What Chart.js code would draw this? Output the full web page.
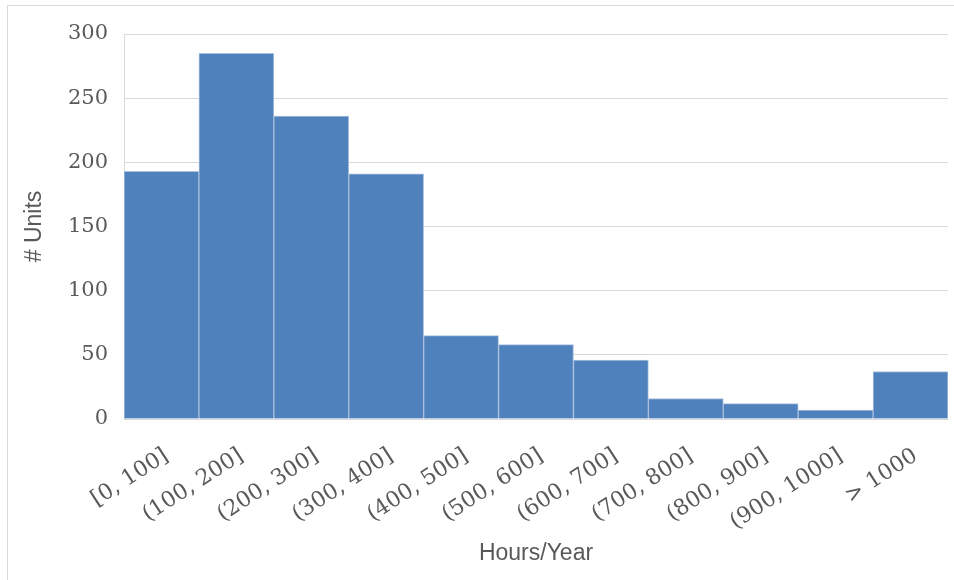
<!DOCTYPE html>
<html>
<head>
<meta charset="utf-8">
<script src="https://cdn.jsdelivr.net/npm/chart.js@4/dist/chart.umd.min.js"></script>
<style>
  html, body { margin: 0; padding: 0; background: #fff; overflow: hidden; }
  #wrap { position: relative; width: 954px; height: 580px; }
  #frame { position: absolute; left: 7px; top: 5px; width: 960px; height: 600px; border: 1px solid #d9d9d9; box-sizing: border-box; }
</style>
</head>
<body>
<div id="wrap">
  <div id="frame"></div>
  <canvas id="histChart"></canvas>
</div>
<script>
// Histogram bins and counts
const binLabels = ['[0, 100]', '(100, 200]', '(200, 300]', '(300, 400]', '(400, 500]', '(500, 600]',
  '(600, 700]', '(700, 800]', '(800, 900]', '(900, 1000]', '> 1000'];
const unitCounts = [193, 285, 236, 191, 65, 58, 46, 16, 12, 7, 37];
const yMin = 0;
const yMax = 300;
const yStep = 50;

const gray = '#595959';
const gridColor = '#d9d9d9';

document.addEventListener('DOMContentLoaded', function() {
  const ctx = document.getElementById('histChart').getContext('2d');

  new Chart(ctx, {
    type: 'bar',
    data: {
      labels: binLabels,
      datasets: [{
        label: '# Units',
        data: unitCounts,
        backgroundColor: '#4f81bd',
        borderColor: '#a9bfdd',
        borderWidth: 1,
        barPercentage: 1,
        categoryPercentage: 1
      }]
    },
    options: {
      responsive: true,
      maintainAspectRatio: false,
      animation: false,
      layout: {
        padding: { left: 0, right: 6, top: 34, bottom: 0 }
      },
      plugins: {
        legend: { display: false },
        tooltip: { enabled: false }
      },
      scales: {
        x: {
          grid: { display: false, drawTicks: false },
          border: { display: true, color: gridColor, width: 1 },
          ticks: {
            color: gray,
            font: { family: 'DejaVu Serif', size: 22 },
            minRotation: 33,
            maxRotation: 33,
            padding: 24,
            labelOffset: 5,
            autoSkip: false
          },
          title: {
            display: true,
            text: 'Hours/Year',
            color: gray,
            font: { family: 'Liberation Sans', size: 23 },
            padding: { top: 13, bottom: 13 }
          },
          afterFit: function(scale) { scale.height = 161; }
        },
        y: {
          min: yMin,
          max: yMax,
          grid: { color: gridColor, lineWidth: 1, drawTicks: false },
          border: { display: true, color: gridColor, width: 1 },
          ticks: {
            stepSize: yStep,
            color: gray,
            font: { family: 'DejaVu Serif', size: 21 },
            padding: 16
          },
          title: {
            display: true,
            text: '# Units',
            color: gray,
            font: { family: 'Liberation Sans', size: 23 },
            padding: { top: 21, bottom: 0 }
          },
          afterFit: function(scale) { scale.width = 124; }
        }
      }
    }
  });
});
</script>
</body>
</html>
